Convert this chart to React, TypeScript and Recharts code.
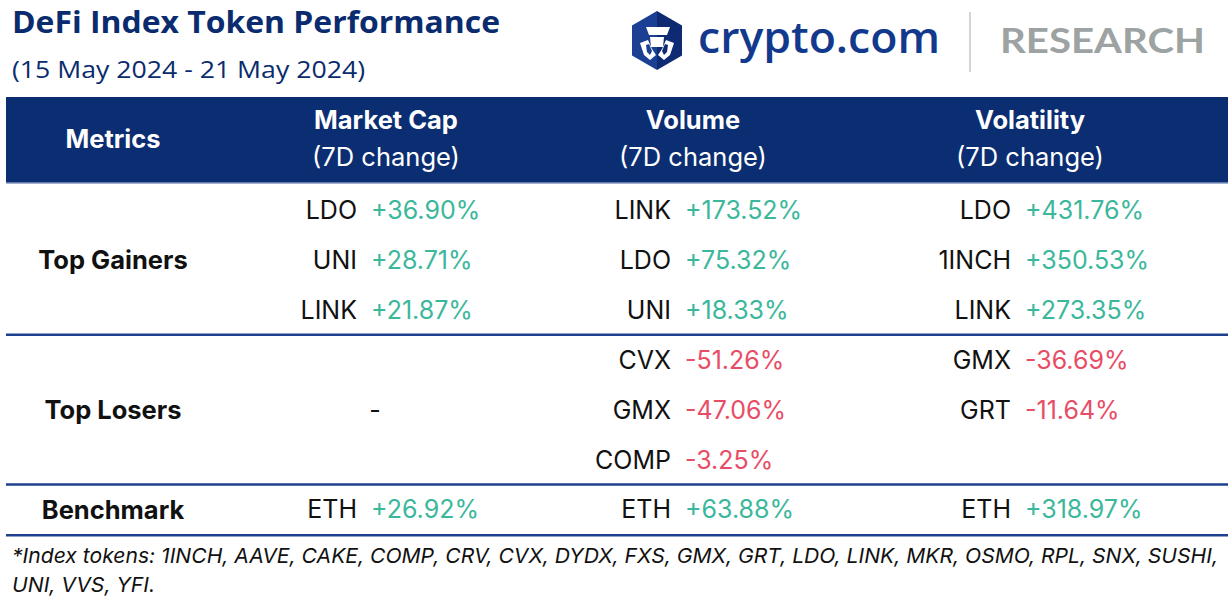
import React from 'react';
import { ScatterChart, Scatter, XAxis, YAxis, ReferenceArea, ReferenceLine } from 'recharts';

// column headers and row groups
const columns = ['Metrics', 'Market Cap', 'Volume', 'Volatility'];
const columnSub = '(7D change)';
const rowGroups = ['Top Gainers', 'Top Losers', 'Benchmark'];

// Market Cap (7D change)
const marketCapGainers = ['LDO', 'UNI', 'LINK'];
const marketCapGainersChg = [36.9, 28.71, 21.87];
const marketCapLosers: string[] = [];
const marketCapLosersChg: number[] = [];

// Volume (7D change)
const volumeGainers = ['LINK', 'LDO', 'UNI'];
const volumeGainersChg = [173.52, 75.32, 18.33];
const volumeLosers = ['CVX', 'GMX', 'COMP'];
const volumeLosersChg = [-51.26, -47.06, -3.25];

// Volatility (7D change)
const volatilityGainers = ['LDO', '1INCH', 'LINK'];
const volatilityGainersChg = [431.76, 350.53, 273.35];
const volatilityLosers = ['GMX', 'GRT'];
const volatilityLosersChg = [-36.69, -11.64];

// Benchmark
const benchmarkToken = 'ETH';
const benchmarkChg = [26.92, 63.88, 318.97];

const indexTokens = [
  '1INCH', 'AAVE', 'CAKE', 'COMP', 'CRV', 'CVX', 'DYDX', 'FXS', 'GMX', 'GRT',
  'LDO', 'LINK', 'MKR', 'OSMO', 'RPL', 'SNX', 'SUSHI', 'UNI', 'VVS', 'YFI',
];

// layout
const W = 1232;
const H = 604;
const ROW_H = 49.9;
const FIRST_ROW_Y = 210;
const Y_MIN = -4;
const Y_MAX = 7.5;
const COL_X = [113, 364, 678, 1018];
const HEADER_X = [113, 386, 693, 1030];
const GROUP_START = [0, 3, 6];
const GROUP_SIZE = [3, 3, 1];
const HEADER_TOP = -2.265;
const HEADER_BOTTOM = -0.54;
const HEADER_MID = -1.44;
const TABLE_LEFT = 6;
const TABLE_RIGHT = 1228;

const NAVY = '#0b2d72';
const GREEN = '#3bb79b';
const RED = '#e84d66';
const TABLE_FONT = 'Inter, Roboto, sans-serif';

const fmt = (v: number) => `${v > 0 ? '+' : ''}${v.toFixed(2)}%`;

type Cell = { x: number; y: number; token: string; chg: number | null };

const groupsByCol: [string[], number[]][][] = [
  [
    [marketCapGainers, marketCapGainersChg],
    [marketCapLosers, marketCapLosersChg],
    [[benchmarkToken], [benchmarkChg[0]]],
  ],
  [
    [volumeGainers, volumeGainersChg],
    [volumeLosers, volumeLosersChg],
    [[benchmarkToken], [benchmarkChg[1]]],
  ],
  [
    [volatilityGainers, volatilityGainersChg],
    [volatilityLosers, volatilityLosersChg],
    [[benchmarkToken], [benchmarkChg[2]]],
  ],
];

const cells: Cell[] = [];
groupsByCol.forEach((groups, c) => {
  groups.forEach(([tokens, chgs], g) => {
    if (tokens.length === 0) {
      cells.push({ x: COL_X[c + 1], y: GROUP_START[g] + (GROUP_SIZE[g] - 1) / 2, token: '-', chg: null });
      return;
    }
    tokens.forEach((t, i) => {
      cells.push({ x: COL_X[c + 1], y: GROUP_START[g] + i, token: t, chg: chgs[i] });
    });
  });
});

const rowLabels = rowGroups.map((label, g) => ({
  x: COL_X[0],
  y: GROUP_START[g] + (GROUP_SIZE[g] - 1) / 2,
  label,
}));

const headers = columns.map((label, i) => ({ x: HEADER_X[i], y: HEADER_MID, label, sub: i > 0 }));

const CellShape = (props: any) => {
  const { cx, cy, payload } = props;
  if (payload.chg === null) {
    return (
      <text x={cx + 11} y={cy + 9} textAnchor="middle" fontSize={25} fontFamily={TABLE_FONT} fill="#111">
        {payload.token}
      </text>
    );
  }
  return (
    <g>
      <text x={cx - 7} y={cy + 9} textAnchor="end" fontSize={25} fontFamily={TABLE_FONT} fill="#111">
        {payload.token}
      </text>
      <text x={cx + 7} y={cy + 9} textAnchor="start" fontSize={25} fontFamily={TABLE_FONT}
        fill={payload.chg >= 0 ? GREEN : RED}>
        {fmt(payload.chg)}
      </text>
    </g>
  );
};

const RowLabelShape = (props: any) => {
  const { cx, cy, payload } = props;
  return (
    <text x={cx} y={cy + 9.5} textAnchor="middle" fontSize={25.5} fontWeight={700} fontFamily={TABLE_FONT} fill="#111">
      {payload.label}
    </text>
  );
};

const HeaderShape = (props: any) => {
  const { cx, cy, payload } = props;
  if (!payload.sub) {
    return (
      <text x={cx} y={cy + 9.5} textAnchor="middle" fontSize={25.5} fontWeight={700} fontFamily={TABLE_FONT} fill="#fff">
        {payload.label}
      </text>
    );
  }
  return (
    <g>
      <text x={cx} y={cy - 9} textAnchor="middle" fontSize={25.5} fontWeight={700} fontFamily={TABLE_FONT} fill="#fff">
        {payload.label}
      </text>
      <text x={cx} y={cy + 28} textAnchor="middle" fontSize={25.5} fontFamily={TABLE_FONT} fill="#fff">
        {columnSub}
      </text>
    </g>
  );
};

const Masthead = () => (
  <svg width={W} height={95} style={{ position: 'absolute', left: 0, top: 0 }}>
    <text x={12} y={33} fontSize={29.5} fontWeight={700} fontFamily="'Open Sans', sans-serif" fill="#0a2c6e"
      textLength={488} lengthAdjust="spacingAndGlyphs">
      DeFi Index Token Performance
    </text>
    <text x={12} y={78} fontSize={23} fontFamily="'Open Sans', sans-serif" fill="#0a2c6e"
      textLength={353} lengthAdjust="spacingAndGlyphs">
      (15 May 2024 - 21 May 2024)
    </text>
    {/* logo */}
    <defs>
      <linearGradient id="hexg" x1="0" x2="1" y1="0" y2="0">
        <stop offset="0.5" stopColor="#1b3f93" />
        <stop offset="0.5" stopColor="#0d2a72" />
      </linearGradient>
    </defs>
    <polygon points="657,11 682,25.5 682,55.5 657,70 632,55.5 632,25.5" fill="url(#hexg)" />
    <polygon points="646,27 670,27 667,35 649,35" fill="#fff" />
    <polygon points="650,37 664,37 663,47 651,47" fill="#fff" />
    <polygon points="640,43 648,40 652,49 656,55 650,60 644,55" fill="#fff" />
    <polygon points="674,43 666,40 662,49 658,55 664,60 670,55" fill="#fff" />
    <polygon points="646,45 649,44 652,51 650,55 647,52" fill="#1b3f93" />
    <polygon points="668,45 665,44 662,51 664,55 667,52" fill="#0d2a72" />
    <text x={698} y={53} fontSize={43} fontWeight={600} fontFamily="'Open Sans', sans-serif" fill="#12398c"
      textLength={242} lengthAdjust="spacingAndGlyphs">
      crypto.com
    </text>
    <line x1={970} x2={970} y1={12} y2={72} stroke="#b8b8b8" strokeWidth={1.2} />
    <text x={1000} y={53} fontSize={34} fontWeight={700} fontFamily="Lato, 'Open Sans', sans-serif" fill="#9da2a2"
      textLength={205} lengthAdjust="spacingAndGlyphs">
      RESEARCH
    </text>
  </svg>
);

const Footnote = () => {
  const head = indexTokens.slice(0, 17).join(', ') + ',';
  const tail = indexTokens.slice(17).join(', ') + '.';
  return (
    <svg width={W} height={70} style={{ position: 'absolute', left: 0, top: 534 }}>
      <text x={12} y={29} fontSize={20.5} fontStyle="italic" fontFamily={TABLE_FONT} fill="#111"
        textLength={1206} lengthAdjust="spacingAndGlyphs">
        {`*Index tokens: ${head}`}
      </text>
      <text x={12} y={58} fontSize={20.5} fontStyle="italic" fontFamily={TABLE_FONT} fill="#111"
        textLength={143} lengthAdjust="spacingAndGlyphs">
        {tail}
      </text>
    </svg>
  );
};

const innerH = (Y_MAX - Y_MIN) * ROW_H;
const marginTop = FIRST_ROW_Y + Y_MIN * ROW_H;
const marginBottom = H - marginTop - innerH;

export default function App() {
  return (
    <div style={{ position: 'absolute', left: 0, top: 0, width: W, height: H, background: '#fff', overflow: 'hidden' }}>
      <ScatterChart width={W} height={H} margin={{ top: marginTop, right: 0, bottom: marginBottom, left: 0 }}>
        <XAxis type="number" dataKey="x" domain={[0, W]} hide allowDataOverflow />
        <YAxis type="number" dataKey="y" domain={[Y_MIN, Y_MAX]} reversed hide allowDataOverflow width={0} />
        <ReferenceArea x1={TABLE_LEFT} x2={TABLE_RIGHT} y1={HEADER_TOP} y2={HEADER_BOTTOM} fill={NAVY} fillOpacity={1} stroke="none" />
        <ReferenceLine segment={[{ x: TABLE_LEFT, y: HEADER_BOTTOM }, { x: TABLE_RIGHT, y: HEADER_BOTTOM }]}
          stroke="#8396bf" strokeWidth={1.5} />
        {[2.5, 5.5, 6.52].map((y) => (
          <ReferenceLine key={y} segment={[{ x: TABLE_LEFT, y }, { x: TABLE_RIGHT, y }]} stroke="#1e3f8e" strokeWidth={2.5} />
        ))}
        <Scatter data={headers} shape={HeaderShape} isAnimationActive={false} />
        <Scatter data={rowLabels} shape={RowLabelShape} isAnimationActive={false} />
        <Scatter data={cells} shape={CellShape} isAnimationActive={false} />
      </ScatterChart>
      <Masthead />
      <Footnote />
    </div>
  );
}
